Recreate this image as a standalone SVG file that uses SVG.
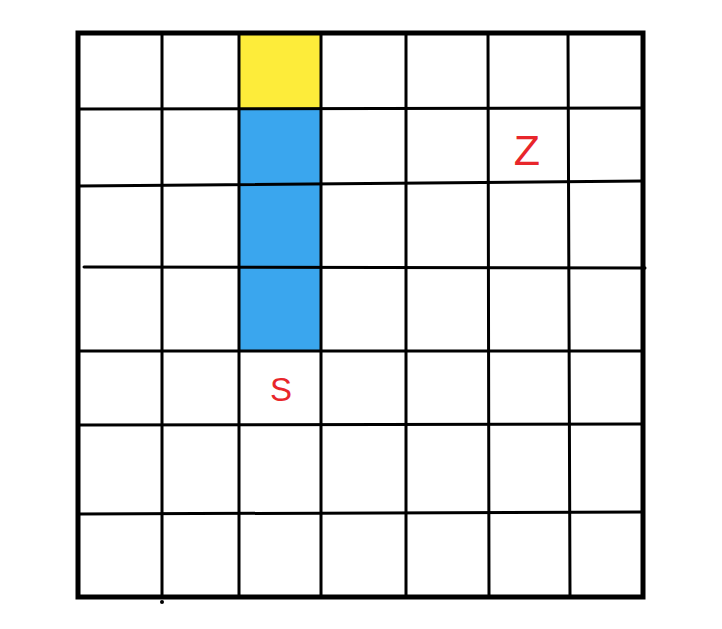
<svg xmlns="http://www.w3.org/2000/svg" width="722" height="629" viewBox="0 0 722 629">
<style>
.g{stroke:#000;stroke-width:3;fill:none;stroke-linecap:round}
.b{stroke:#000;stroke-width:5;fill:none}
.t{font-family:"Liberation Sans",Arial,sans-serif;fill:#E8262B}
</style>
<rect width="722" height="629" fill="#fff"/>
<g id="cells">
<rect id="goal-top" x="239" y="33" width="82" height="76" fill="#FDEC3A"/>
<rect id="snake" x="239" y="109" width="82" height="242" fill="#3AA6EE"/>
</g>
<g id="grid">
<path class="g" d="M162 33 L162 597 M239 33 L239 597 M321 33 L321 597 M406 33 L406 597 M488 33 L489 597 M568 33 L570 597"/>
<path class="g" d="M78 109 L643 108 M78 186 L643 181 M84 267 L645 268 M78 351 L643 351 M78 425 L643 424 M78 514 L643 512"/>
<circle cx="162" cy="602" r="2" fill="#000"/>
<rect class="b" x="78" y="33" width="565" height="564"/>
</g>
<g id="labels">
<text class="t" x="527" y="165" font-size="43" text-anchor="middle" font-weight="300">Z</text>
<text class="t" x="281" y="401" font-size="33" text-anchor="middle">S</text>
</g>
</svg>
